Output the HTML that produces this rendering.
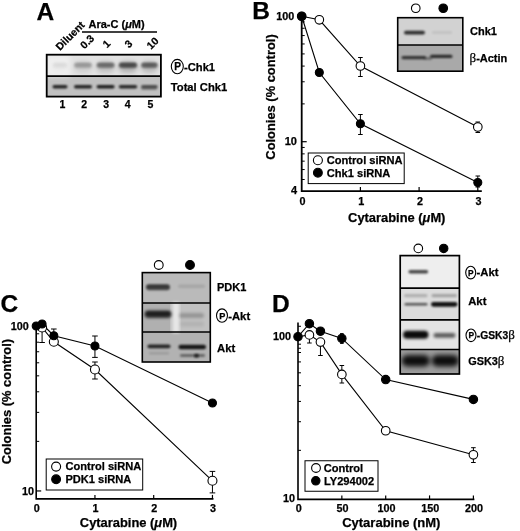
<!DOCTYPE html>
<html><head><meta charset="utf-8"><title>Figure</title>
<style>html,body{margin:0;padding:0;background:#fff}svg{display:block}text{stroke:#000;stroke-width:0.25px}</style></head><body>
<svg width="520" height="531" viewBox="0 0 520 531" font-family="Liberation Sans, sans-serif" font-weight="bold" fill="#000">
<defs>
<filter id="b0_6" x="-20%" y="-100%" width="140%" height="300%"><feGaussianBlur stdDeviation="0.6"/></filter>
<filter id="b0_9" x="-20%" y="-100%" width="140%" height="300%"><feGaussianBlur stdDeviation="0.9"/></filter>
<filter id="b1_2" x="-20%" y="-100%" width="140%" height="300%"><feGaussianBlur stdDeviation="1.2"/></filter>
<filter id="b1_8" x="-20%" y="-100%" width="140%" height="300%"><feGaussianBlur stdDeviation="1.8"/></filter>
<filter id="b2_5" x="-30%" y="-100%" width="160%" height="300%"><feGaussianBlur stdDeviation="2.5"/></filter>
</defs>
<rect width="520" height="531" fill="#fff"/>

<text x="36.50" y="19.60" font-size="24.5" text-anchor="start" stroke-width="0.5">A</text>
<g clip-path="url(#cA)">
<clipPath id="cA"><rect x="46.7" y="54.7" width="114.2" height="41.9"/></clipPath>
<rect x="46.7" y="54.7" width="114.2" height="21.5" fill="#e2e2e2"/>
<rect x="46.7" y="76.2" width="114.2" height="20.39999999999999" fill="#c0c0c0"/>
<rect x="46" y="55" width="24" height="22" fill="#fff" opacity="0.45" filter="url(#b2_5)"/>
<rect x="52.50" y="61.50" width="15.00" height="11.00" rx="5.50" fill="#000" opacity="0.018000000000000002" filter="url(#b2_5)"/>
<rect x="52.50" y="62.55" width="15.00" height="5.50" rx="2.75" fill="#000" opacity="0.04" filter="url(#b1_2)"/>
<rect x="53.50" y="63.25" width="13.00" height="2.50" rx="1.25" fill="#000" opacity="0.02" filter="url(#b0_9)"/>
<rect x="74.00" y="61.50" width="18.00" height="11.00" rx="5.50" fill="#000" opacity="0.09000000000000001" filter="url(#b2_5)"/>
<rect x="74.00" y="62.55" width="18.00" height="5.50" rx="2.75" fill="#000" opacity="0.2" filter="url(#b1_2)"/>
<rect x="75.00" y="63.25" width="16.00" height="2.50" rx="1.25" fill="#000" opacity="0.1" filter="url(#b0_9)"/>
<rect x="96.60" y="61.50" width="18.00" height="11.00" rx="5.50" fill="#000" opacity="0.162" filter="url(#b2_5)"/>
<rect x="96.60" y="62.55" width="18.00" height="5.50" rx="2.75" fill="#000" opacity="0.36" filter="url(#b1_2)"/>
<rect x="97.60" y="63.25" width="16.00" height="2.50" rx="1.25" fill="#000" opacity="0.18" filter="url(#b0_9)"/>
<rect x="118.80" y="61.50" width="18.40" height="11.00" rx="5.50" fill="#000" opacity="0.225" filter="url(#b2_5)"/>
<rect x="118.80" y="62.55" width="18.40" height="5.50" rx="2.75" fill="#000" opacity="0.5" filter="url(#b1_2)"/>
<rect x="119.80" y="63.25" width="16.40" height="2.50" rx="1.25" fill="#000" opacity="0.25" filter="url(#b0_9)"/>
<rect x="141.10" y="61.50" width="16.60" height="11.00" rx="5.50" fill="#000" opacity="0.189" filter="url(#b2_5)"/>
<rect x="141.10" y="62.55" width="16.60" height="5.50" rx="2.75" fill="#000" opacity="0.42" filter="url(#b1_2)"/>
<rect x="142.10" y="63.25" width="14.60" height="2.50" rx="1.25" fill="#000" opacity="0.21" filter="url(#b0_9)"/>
<rect x="52.50" y="85.00" width="15.00" height="3.40" rx="1.70" fill="#000" opacity="0.82" filter="url(#b0_9)"/>
<rect x="74.00" y="85.00" width="18.00" height="3.40" rx="1.70" fill="#000" opacity="0.82" filter="url(#b0_9)"/>
<rect x="96.60" y="85.00" width="18.00" height="3.40" rx="1.70" fill="#000" opacity="0.85" filter="url(#b0_9)"/>
<rect x="118.80" y="85.00" width="18.40" height="3.40" rx="1.70" fill="#000" opacity="0.8" filter="url(#b0_9)"/>
<rect x="141.10" y="85.00" width="16.60" height="3.40" rx="1.70" fill="#000" opacity="0.6" filter="url(#b0_9)"/>
<rect x="141.00" y="87.60" width="16.00" height="2.40" rx="1.20" fill="#000" opacity="0.25" filter="url(#b0_9)"/>
</g>
<rect x="46.7" y="54.7" width="114.2" height="41.89999999999999" fill="none" stroke="#000" stroke-width="1.8"/>
<line x1="46.7" x2="160.9" y1="76.2" y2="76.2" stroke="#000" stroke-width="1.8"/>
<text x="62.50" y="107.60" font-size="10.5" text-anchor="middle" >1</text>
<text x="84.25" y="107.60" font-size="10.5" text-anchor="middle" >2</text>
<text x="106.25" y="107.60" font-size="10.5" text-anchor="middle" >3</text>
<text x="127.75" y="107.60" font-size="10.5" text-anchor="middle" >4</text>
<text x="150.50" y="107.60" font-size="10.5" text-anchor="middle" >5</text>
<text x="88.50" y="28.00" font-size="11" text-anchor="start" >Ara-C (<tspan font-style="italic">μ</tspan>M)</text>
<line x1="82" x2="157" y1="32" y2="32" stroke="#000" stroke-width="1.3"/>
<text transform="translate(60,51) rotate(-45)" font-size="10.5">Diluent</text>
<text transform="translate(84.5,49.5) rotate(-45)" font-size="10.5">0.3</text>
<text transform="translate(107,48.5) rotate(-45)" font-size="10.5">1</text>
<text transform="translate(129,48.5) rotate(-45)" font-size="10.5">3</text>
<text transform="translate(151,50) rotate(-45)" font-size="10.5">10</text>
<ellipse cx="177.30" cy="66.60" rx="6" ry="7.2" fill="#fff" stroke="#000" stroke-width="1.1"/>
<text x="177.50" y="70.20" font-size="10.1" text-anchor="middle" >P</text>
<text x="184.00" y="70.80" font-size="11.2" text-anchor="start" >-Chk1</text>
<text x="170.80" y="91.20" font-size="11.2" text-anchor="start" >Total Chk1</text>
<text x="252.30" y="19.40" font-size="24.5" text-anchor="start" stroke-width="0.5">B</text>
<path d="M301.7 14.100000000000001V191.1H481.8" stroke="#000" stroke-width="1.8" fill="none"/>
<line x1="301.7" x2="304.7" y1="21.85" y2="21.85" stroke="#000" stroke-width="1"/>
<line x1="301.7" x2="304.7" y1="28.27" y2="28.27" stroke="#000" stroke-width="1"/>
<line x1="301.7" x2="304.7" y1="35.56" y2="35.56" stroke="#000" stroke-width="1"/>
<line x1="301.7" x2="304.7" y1="43.96" y2="43.96" stroke="#000" stroke-width="1"/>
<line x1="301.7" x2="304.7" y1="53.91" y2="53.91" stroke="#000" stroke-width="1"/>
<line x1="301.7" x2="304.7" y1="66.08" y2="66.08" stroke="#000" stroke-width="1"/>
<line x1="301.7" x2="304.7" y1="81.77" y2="81.77" stroke="#000" stroke-width="1"/>
<line x1="301.7" x2="304.7" y1="103.89" y2="103.89" stroke="#000" stroke-width="1"/>
<line x1="301.7" x2="304.7" y1="147.45" y2="147.45" stroke="#000" stroke-width="1"/>
<line x1="301.7" x2="304.7" y1="153.87" y2="153.87" stroke="#000" stroke-width="1"/>
<line x1="301.7" x2="304.7" y1="161.16" y2="161.16" stroke="#000" stroke-width="1"/>
<line x1="301.7" x2="304.7" y1="169.56" y2="169.56" stroke="#000" stroke-width="1"/>
<line x1="301.7" x2="304.7" y1="179.51" y2="179.51" stroke="#000" stroke-width="1"/>
<line x1="301.7" x2="306.7" y1="141.70" y2="141.70" stroke="#000" stroke-width="1.2"/>
<line x1="360.40" x2="360.40" y1="191.1" y2="187.1" stroke="#000" stroke-width="1.2"/>
<line x1="419.10" x2="419.10" y1="191.1" y2="187.1" stroke="#000" stroke-width="1.2"/>
<line x1="477.80" x2="477.80" y1="191.1" y2="187.1" stroke="#000" stroke-width="1.2"/>
<text x="294.30" y="19.50" font-size="10.8" text-anchor="end" >100</text>
<text x="297.00" y="145.00" font-size="11" text-anchor="end" >10</text>
<text x="297.00" y="193.60" font-size="11" text-anchor="end" >4</text>
<text x="302.50" y="205.30" font-size="10.8" text-anchor="middle" >0</text>
<text x="361.20" y="205.30" font-size="10.8" text-anchor="middle" >1</text>
<text x="419.90" y="205.30" font-size="10.8" text-anchor="middle" >2</text>
<text x="478.60" y="205.30" font-size="10.8" text-anchor="middle" >3</text>
<text x="396.75" y="221.50" font-size="12.9" text-anchor="middle" >Cytarabine (<tspan font-style="italic">μ</tspan>M)</text>
<text transform="translate(274.7,97) rotate(-90)" font-size="12.9" text-anchor="middle">Colonies (% control)</text>
<polyline points="301.70,16.25 319.31,19.80 360.40,66.00 477.80,127.00" fill="none" stroke="#000" stroke-width="1.1"/>
<polyline points="301.70,16.25 319.31,72.50 360.40,123.75 477.80,182.50" fill="none" stroke="#000" stroke-width="1.1"/>
<path d="M360.40 57.50V76.50M358.10 57.50H362.70M358.10 76.50H362.70" stroke="#000" stroke-width="1" fill="none"/>
<path d="M360.40 114.50V134.50M358.10 114.50H362.70M358.10 134.50H362.70" stroke="#000" stroke-width="1" fill="none"/>
<path d="M477.80 122.00V132.50M475.50 122.00H480.10M475.50 132.50H480.10" stroke="#000" stroke-width="1" fill="none"/>
<path d="M477.80 176.00V187.00M475.50 176.00H480.10M475.50 187.00H480.10" stroke="#000" stroke-width="1" fill="none"/>
<circle cx="301.70" cy="16.25" r="4.3" fill="#fff" stroke="#000" stroke-width="1.1"/>
<circle cx="319.31" cy="19.80" r="4.3" fill="#fff" stroke="#000" stroke-width="1.1"/>
<circle cx="360.40" cy="66.00" r="4.3" fill="#fff" stroke="#000" stroke-width="1.1"/>
<circle cx="477.80" cy="127.00" r="4.3" fill="#fff" stroke="#000" stroke-width="1.1"/>
<circle cx="301.70" cy="16.25" r="4.0" fill="#000" stroke="#000" stroke-width="1.1"/>
<circle cx="319.31" cy="72.50" r="4.0" fill="#000" stroke="#000" stroke-width="1.1"/>
<circle cx="360.40" cy="123.75" r="4.0" fill="#000" stroke="#000" stroke-width="1.1"/>
<circle cx="477.80" cy="182.50" r="4.0" fill="#000" stroke="#000" stroke-width="1.1"/>
<rect x="308.2" y="153" width="96" height="30.6" fill="#fff" stroke="#000" stroke-width="1"/>
<circle cx="317.90" cy="160.20" r="4.5" fill="#fff" stroke="#000" stroke-width="1.1"/>
<circle cx="317.90" cy="172.70" r="4.4" fill="#000" stroke="#000" stroke-width="1.1"/>
<text x="326.80" y="163.80" font-size="11.1" text-anchor="start" >Control siRNA</text>
<text x="326.80" y="176.60" font-size="11.1" text-anchor="start" >Chk1 siRNA</text>
<clipPath id="cB"><rect x="397.7" y="17.7" width="65.1" height="53.5"/></clipPath><g clip-path="url(#cB)">
<rect x="397.7" y="17.7" width="65.10000000000002" height="27.3" fill="#d2d2d2"/>
<rect x="397.7" y="45" width="65.10000000000002" height="26.200000000000003" fill="#a9a9a9"/>
<rect x="404.00" y="30.70" width="21.00" height="3.80" rx="1.90" fill="#000" opacity="0.78" filter="url(#b0_9)"/>
<rect x="432.00" y="31.60" width="20.00" height="2.00" rx="1.00" fill="#000" opacity="0.1" filter="url(#b0_9)"/>
<rect x="401.50" y="56.00" width="24.50" height="3.20" rx="1.60" fill="#000" opacity="0.7" filter="url(#b0_9)"/>
<rect x="424.00" y="57.35" width="8.00" height="2.50" rx="1.25" fill="#000" opacity="0.4" filter="url(#b0_9)"/>
<rect x="430.00" y="54.70" width="22.50" height="3.40" rx="1.70" fill="#000" opacity="0.75" filter="url(#b0_9)"/>
</g>
<rect x="397.7" y="17.7" width="65.10000000000002" height="53.5" fill="none" stroke="#000" stroke-width="1.6"/>
<line x1="397.7" x2="462.8" y1="45" y2="45" stroke="#000" stroke-width="1.6"/>
<circle cx="415.75" cy="8.25" r="4.3" fill="#fff" stroke="#000" stroke-width="1.1"/>
<circle cx="443.25" cy="8.25" r="4.3" fill="#000" stroke="#000" stroke-width="1.1"/>
<text x="470.00" y="35.00" font-size="11" text-anchor="start" >Chk1</text>
<text x="469.50" y="62.00" font-size="11" text-anchor="start" ><tspan font-family="Liberation Serif, serif" font-weight="normal" font-size="13">β</tspan>-Actin</text>
<text x="0.60" y="312.30" font-size="24.5" text-anchor="start" stroke-width="0.5">C</text>
<path d="M36.2 324.25V498.9H213.45" stroke="#000" stroke-width="1.6" fill="none"/>
<line x1="36.2" x2="39.2" y1="333.79" y2="333.79" stroke="#000" stroke-width="1"/>
<line x1="36.2" x2="39.2" y1="342.21" y2="342.21" stroke="#000" stroke-width="1"/>
<line x1="36.2" x2="39.2" y1="351.76" y2="351.76" stroke="#000" stroke-width="1"/>
<line x1="36.2" x2="39.2" y1="362.79" y2="362.79" stroke="#000" stroke-width="1"/>
<line x1="36.2" x2="39.2" y1="375.83" y2="375.83" stroke="#000" stroke-width="1"/>
<line x1="36.2" x2="39.2" y1="391.79" y2="391.79" stroke="#000" stroke-width="1"/>
<line x1="36.2" x2="39.2" y1="412.37" y2="412.37" stroke="#000" stroke-width="1"/>
<line x1="36.2" x2="39.2" y1="441.37" y2="441.37" stroke="#000" stroke-width="1"/>
<line x1="36.2" x2="41.2" y1="490.95" y2="490.95" stroke="#000" stroke-width="1.2"/>
<line x1="94.95" x2="94.95" y1="498.9" y2="494.9" stroke="#000" stroke-width="1.2"/>
<line x1="153.70" x2="153.70" y1="498.9" y2="494.9" stroke="#000" stroke-width="1.2"/>
<line x1="212.45" x2="212.45" y1="498.9" y2="494.9" stroke="#000" stroke-width="1.2"/>
<text x="28.80" y="330.00" font-size="10.8" text-anchor="end" >100</text>
<text x="34.00" y="494.70" font-size="10.8" text-anchor="end" >10</text>
<text x="36.80" y="512.00" font-size="10.8" text-anchor="middle" >0</text>
<text x="95.55" y="512.00" font-size="10.8" text-anchor="middle" >1</text>
<text x="154.30" y="512.00" font-size="10.8" text-anchor="middle" >2</text>
<text x="213.05" y="512.00" font-size="10.8" text-anchor="middle" >3</text>
<text x="128.50" y="526.50" font-size="12.9" text-anchor="middle" >Cytarabine (<tspan font-style="italic">μ</tspan>M)</text>
<text transform="translate(11.3,401.6) rotate(-90)" font-size="12.9" text-anchor="middle">Colonies (% control)</text>
<polyline points="36.20,326.25 42.08,327.50 53.83,341.75 94.95,369.50 212.45,480.80" fill="none" stroke="#000" stroke-width="1.1"/>
<polyline points="36.20,326.00 42.08,324.00 53.83,335.75 94.95,346.00 212.45,403.00" fill="none" stroke="#000" stroke-width="1.1"/>
<path d="M42.08 327.50V342.50M39.28 327.50H44.88M39.28 342.50H44.88" stroke="#000" stroke-width="1" fill="none"/>
<path d="M53.83 329.00V341.00M51.03 329.00H56.62M51.03 341.00H56.62" stroke="#000" stroke-width="1" fill="none"/>
<path d="M94.95 336.00V357.40M92.15 336.00H97.75M92.15 357.40H97.75" stroke="#000" stroke-width="1" fill="none"/>
<path d="M94.95 362.00V379.00M92.15 362.00H97.75M92.15 379.00H97.75" stroke="#000" stroke-width="1" fill="none"/>
<path d="M212.45 471.40V492.90M209.65 471.40H215.25M209.65 492.90H215.25" stroke="#000" stroke-width="1" fill="none"/>
<circle cx="42.08" cy="327.50" r="4.5" fill="#fff" stroke="#000" stroke-width="1.1"/>
<circle cx="53.83" cy="341.75" r="4.5" fill="#fff" stroke="#000" stroke-width="1.1"/>
<circle cx="94.95" cy="369.50" r="4.5" fill="#fff" stroke="#000" stroke-width="1.1"/>
<circle cx="212.45" cy="480.80" r="4.5" fill="#fff" stroke="#000" stroke-width="1.1"/>
<circle cx="36.20" cy="326.00" r="4.0" fill="#000" stroke="#000" stroke-width="1.1"/>
<circle cx="42.08" cy="324.00" r="4.0" fill="#000" stroke="#000" stroke-width="1.1"/>
<circle cx="53.83" cy="335.75" r="4.0" fill="#000" stroke="#000" stroke-width="1.1"/>
<circle cx="94.95" cy="346.00" r="4.0" fill="#000" stroke="#000" stroke-width="1.1"/>
<circle cx="212.45" cy="403.00" r="4.0" fill="#000" stroke="#000" stroke-width="1.1"/>
<rect x="46.2" y="459" width="96.5" height="31" fill="#fff" stroke="#000" stroke-width="1"/>
<circle cx="56.10" cy="466.60" r="4.5" fill="#fff" stroke="#000" stroke-width="1.1"/>
<circle cx="56.10" cy="479.30" r="4.4" fill="#000" stroke="#000" stroke-width="1.1"/>
<text x="65.40" y="470.40" font-size="11.1" text-anchor="start" >Control siRNA</text>
<text x="65.40" y="483.00" font-size="11.1" text-anchor="start" >PDK1 siRNA</text>
<clipPath id="cC"><rect x="142.3" y="272.6" width="68" height="89.4"/></clipPath><g clip-path="url(#cC)">
<rect x="142.3" y="272.6" width="68.0" height="30.399999999999977" fill="#bababa"/>
<rect x="142.3" y="303" width="68.0" height="29" fill="#b0b0b0"/>
<rect x="142.3" y="332" width="68.0" height="30" fill="#b2b2b2"/>
<rect x="170" y="303" width="45" height="29" fill="#fff" opacity="0.22"/>
<rect x="172.5" y="302" width="7" height="31" fill="#fff" opacity="0.6" filter="url(#b1_8)"/>
<rect x="146.00" y="284.30" width="24.00" height="6.00" rx="3.00" fill="#000" opacity="0.62" filter="url(#b1_2)"/>
<rect x="146.50" y="285.00" width="22.50" height="3.00" rx="1.50" fill="#000" opacity="0.25" filter="url(#b0_9)"/>
<rect x="178.00" y="284.55" width="27.00" height="3.50" rx="1.75" fill="#000" opacity="0.1" filter="url(#b1_2)"/>
<rect x="144.50" y="310.55" width="27.00" height="7.50" rx="3.75" fill="#000" opacity="0.75" filter="url(#b1_8)"/>
<rect x="146.00" y="311.75" width="24.00" height="3.50" rx="1.75" fill="#000" opacity="0.35" filter="url(#b0_9)"/>
<rect x="179.00" y="313.00" width="25.00" height="5.00" rx="2.50" fill="#000" opacity="0.22" filter="url(#b1_8)"/>
<rect x="180.00" y="321.50" width="24.00" height="5.00" rx="2.50" fill="#000" opacity="0.07" filter="url(#b1_8)"/>
<rect x="147.50" y="344.40" width="23.00" height="3.80" rx="1.90" fill="#000" opacity="0.8" filter="url(#b0_9)"/>
<rect x="149.00" y="352.30" width="20.00" height="2.00" rx="1.00" fill="#000" opacity="0.15" filter="url(#b0_9)"/>
<rect x="178.50" y="344.80" width="27.50" height="4.40" rx="2.20" fill="#000" opacity="0.88" filter="url(#b0_9)"/>
<rect x="180.00" y="354.20" width="25.00" height="2.60" rx="1.30" fill="#000" opacity="0.5" filter="url(#b0_9)"/>
<rect x="194.00" y="353.70" width="5.00" height="4.00" rx="2.00" fill="#000" opacity="0.7" filter="url(#b0_9)"/>
</g>
<rect x="142.3" y="272.6" width="68.0" height="89.39999999999998" fill="none" stroke="#000" stroke-width="1.6"/>
<line x1="142.3" x2="210.3" y1="303" y2="303" stroke="#000" stroke-width="1.6"/>
<line x1="142.3" x2="210.3" y1="332" y2="332" stroke="#000" stroke-width="1.6"/>
<circle cx="158.75" cy="265.00" r="4.4" fill="#fff" stroke="#000" stroke-width="1.1"/>
<circle cx="190.00" cy="265.00" r="4.4" fill="#000" stroke="#000" stroke-width="1.1"/>
<text x="217.00" y="291.30" font-size="11" text-anchor="start" >PDK1</text>
<ellipse cx="222.00" cy="315.60" rx="5.5" ry="6.7" fill="#fff" stroke="#000" stroke-width="1.1"/>
<text x="222.20" y="318.90" font-size="9.2" text-anchor="middle" >P</text>
<text x="228.20" y="319.50" font-size="11.3" text-anchor="start" >-Akt</text>
<text x="217.00" y="352.00" font-size="11.3" text-anchor="start" >Akt</text>
<text x="272.00" y="311.70" font-size="24.5" text-anchor="start" stroke-width="0.5">D</text>
<path d="M298 322.5V499.4H474.4" stroke="#000" stroke-width="1.6" fill="none"/>
<line x1="298" x2="301" y1="326.28" y2="326.28" stroke="#000" stroke-width="1"/>
<line x1="298" x2="301" y1="344.19" y2="344.19" stroke="#000" stroke-width="1"/>
<line x1="298" x2="301" y1="348.22" y2="348.22" stroke="#000" stroke-width="1"/>
<line x1="298" x2="301" y1="352.50" y2="352.50" stroke="#000" stroke-width="1"/>
<line x1="298" x2="301" y1="361.92" y2="361.92" stroke="#000" stroke-width="1"/>
<line x1="298" x2="301" y1="372.80" y2="372.80" stroke="#000" stroke-width="1"/>
<line x1="298" x2="301" y1="385.67" y2="385.67" stroke="#000" stroke-width="1"/>
<line x1="298" x2="301" y1="401.42" y2="401.42" stroke="#000" stroke-width="1"/>
<line x1="298" x2="301" y1="421.72" y2="421.72" stroke="#000" stroke-width="1"/>
<line x1="298" x2="301" y1="450.33" y2="450.33" stroke="#000" stroke-width="1"/>
<line x1="298" x2="302" y1="336.75" y2="336.75" stroke="#000" stroke-width="1.2"/>
<line x1="341.85" x2="341.85" y1="499.4" y2="495.4" stroke="#000" stroke-width="1.2"/>
<line x1="385.70" x2="385.70" y1="499.4" y2="495.4" stroke="#000" stroke-width="1.2"/>
<line x1="429.55" x2="429.55" y1="499.4" y2="495.4" stroke="#000" stroke-width="1.2"/>
<line x1="473.40" x2="473.40" y1="499.4" y2="495.4" stroke="#000" stroke-width="1.2"/>
<text x="291.00" y="340.30" font-size="10.8" text-anchor="end" >100</text>
<text x="295.00" y="501.50" font-size="10.8" text-anchor="end" >10</text>
<text x="298.70" y="512.20" font-size="10.8" text-anchor="middle" >0</text>
<text x="342.55" y="512.20" font-size="10.8" text-anchor="middle" >50</text>
<text x="386.40" y="512.20" font-size="10.8" text-anchor="middle" >100</text>
<text x="430.25" y="512.20" font-size="10.8" text-anchor="middle" >150</text>
<text x="474.10" y="512.20" font-size="10.8" text-anchor="middle" >200</text>
<text x="391.30" y="527.20" font-size="13" text-anchor="middle" >Cytarabine (nM)</text>
<polyline points="298.00,336.70 309.40,334.90 320.45,342.10 341.85,374.40 385.70,430.75 473.40,454.80" fill="none" stroke="#000" stroke-width="1.1"/>
<polyline points="298.00,336.70 309.40,323.70 320.45,331.20 341.85,338.40 385.70,379.60 473.40,399.40" fill="none" stroke="#000" stroke-width="1.1"/>
<path d="M309.40 335.00V343.00M307.10 335.00H311.70M307.10 343.00H311.70" stroke="#000" stroke-width="1" fill="none"/>
<path d="M320.45 342.00V355.50M318.15 342.00H322.75M318.15 355.50H322.75" stroke="#000" stroke-width="1" fill="none"/>
<path d="M341.85 365.50V383.00M339.55 365.50H344.15M339.55 383.00H344.15" stroke="#000" stroke-width="1" fill="none"/>
<path d="M341.85 333.60V343.40M340.05 333.60H343.65M340.05 343.40H343.65" stroke="#000" stroke-width="1" fill="none"/>
<path d="M473.40 447.70V462.50M471.10 447.70H475.70M471.10 462.50H475.70" stroke="#000" stroke-width="1" fill="none"/>
<circle cx="309.40" cy="334.90" r="4.3" fill="#fff" stroke="#000" stroke-width="1.1"/>
<circle cx="320.45" cy="342.10" r="4.3" fill="#fff" stroke="#000" stroke-width="1.1"/>
<circle cx="341.85" cy="374.40" r="4.3" fill="#fff" stroke="#000" stroke-width="1.1"/>
<circle cx="385.70" cy="430.75" r="4.3" fill="#fff" stroke="#000" stroke-width="1.1"/>
<circle cx="473.40" cy="454.80" r="4.3" fill="#fff" stroke="#000" stroke-width="1.1"/>
<circle cx="298.00" cy="336.70" r="4.2" fill="#000" stroke="#000" stroke-width="1.1"/>
<circle cx="309.40" cy="323.70" r="4.2" fill="#000" stroke="#000" stroke-width="1.1"/>
<circle cx="320.45" cy="331.20" r="4.2" fill="#000" stroke="#000" stroke-width="1.1"/>
<circle cx="341.85" cy="338.40" r="4.2" fill="#000" stroke="#000" stroke-width="1.1"/>
<circle cx="385.70" cy="379.60" r="4.2" fill="#000" stroke="#000" stroke-width="1.1"/>
<circle cx="473.40" cy="399.40" r="4.2" fill="#000" stroke="#000" stroke-width="1.1"/>
<rect x="305" y="460.75" width="73" height="30.5" fill="#fff" stroke="#000" stroke-width="1"/>
<circle cx="316.00" cy="468.00" r="4.4" fill="#fff" stroke="#000" stroke-width="1.1"/>
<circle cx="315.80" cy="480.80" r="4.2" fill="#000" stroke="#000" stroke-width="1.1"/>
<text x="323.70" y="472.00" font-size="11.1" text-anchor="start" >Control</text>
<text x="324.00" y="484.60" font-size="11.1" text-anchor="start" >LY294002</text>
<clipPath id="cD"><rect x="400.2" y="255.6" width="59.2" height="118.4"/></clipPath><g clip-path="url(#cD)">
<rect x="400.2" y="255.6" width="59.19999999999999" height="32.50000000000003" fill="#eeeeee"/>
<rect x="400.2" y="288.1" width="59.19999999999999" height="31.69999999999999" fill="#dcdcdc"/>
<rect x="400.2" y="319.8" width="59.19999999999999" height="29.69999999999999" fill="#e4e4e4"/>
<rect x="400.2" y="349.5" width="59.19999999999999" height="24.5" fill="#9c9c9c"/>
<rect x="408.40" y="270.00" width="19.80" height="3.60" rx="1.80" fill="#000" opacity="0.7" filter="url(#b0_9)"/>
<rect x="404.00" y="294.00" width="23.50" height="3.20" rx="1.60" fill="#000" opacity="0.2" filter="url(#b1_2)"/>
<rect x="404.50" y="303.00" width="23.00" height="2.60" rx="1.30" fill="#000" opacity="0.62" filter="url(#b0_9)"/>
<rect x="431.50" y="294.00" width="25.50" height="3.20" rx="1.60" fill="#000" opacity="0.25" filter="url(#b1_2)"/>
<rect x="431.00" y="301.90" width="26.50" height="4.80" rx="2.40" fill="#000" opacity="0.92" filter="url(#b0_9)"/>
<rect x="403.00" y="330.70" width="25.50" height="8.00" rx="4.00" fill="#000" opacity="0.92" filter="url(#b1_8)"/>
<rect x="405.00" y="332.50" width="22.00" height="4.00" rx="2.00" fill="#000" opacity="0.4" filter="url(#b0_9)"/>
<rect x="433.50" y="333.00" width="22.00" height="4.80" rx="2.40" fill="#000" opacity="0.6" filter="url(#b1_8)"/>
<rect x="401.50" y="355.05" width="28.50" height="11.50" rx="5.75" fill="#000" opacity="0.92" filter="url(#b2_5)"/>
<rect x="431.50" y="355.05" width="27.50" height="11.50" rx="5.75" fill="#000" opacity="0.92" filter="url(#b2_5)"/>
</g>
<rect x="400.2" y="255.6" width="59.19999999999999" height="118.4" fill="none" stroke="#000" stroke-width="1.7"/>
<line x1="400.2" x2="459.4" y1="288.1" y2="288.1" stroke="#000" stroke-width="1.7"/>
<line x1="400.2" x2="459.4" y1="319.8" y2="319.8" stroke="#000" stroke-width="1.7"/>
<line x1="400.2" x2="459.4" y1="349.5" y2="349.5" stroke="#000" stroke-width="1.7"/>
<circle cx="418.30" cy="248.40" r="4.3" fill="#fff" stroke="#000" stroke-width="1.1"/>
<circle cx="443.70" cy="248.40" r="4.2" fill="#000" stroke="#000" stroke-width="1.1"/>
<ellipse cx="470.70" cy="272.60" rx="5" ry="6.3" fill="#fff" stroke="#000" stroke-width="1.1"/>
<text x="470.90" y="275.60" font-size="8.4" text-anchor="middle" >P</text>
<text x="476.60" y="276.20" font-size="11.3" text-anchor="start" >-Akt</text>
<text x="468.20" y="305.00" font-size="11.3" text-anchor="start" >Akt</text>
<ellipse cx="471.00" cy="335.30" rx="5" ry="6.3" fill="#fff" stroke="#000" stroke-width="1.1"/>
<text x="471.20" y="338.30" font-size="8.4" text-anchor="middle" >P</text>
<text x="476.80" y="339.00" font-size="10.3" text-anchor="start" >-GSK3<tspan font-family="Liberation Serif, serif" font-weight="normal" font-size="13">β</tspan></text>
<text x="468.20" y="364.60" font-size="10.9" text-anchor="start" >GSK3<tspan font-family="Liberation Serif, serif" font-weight="normal" font-size="13">β</tspan></text>
</svg></body></html>
